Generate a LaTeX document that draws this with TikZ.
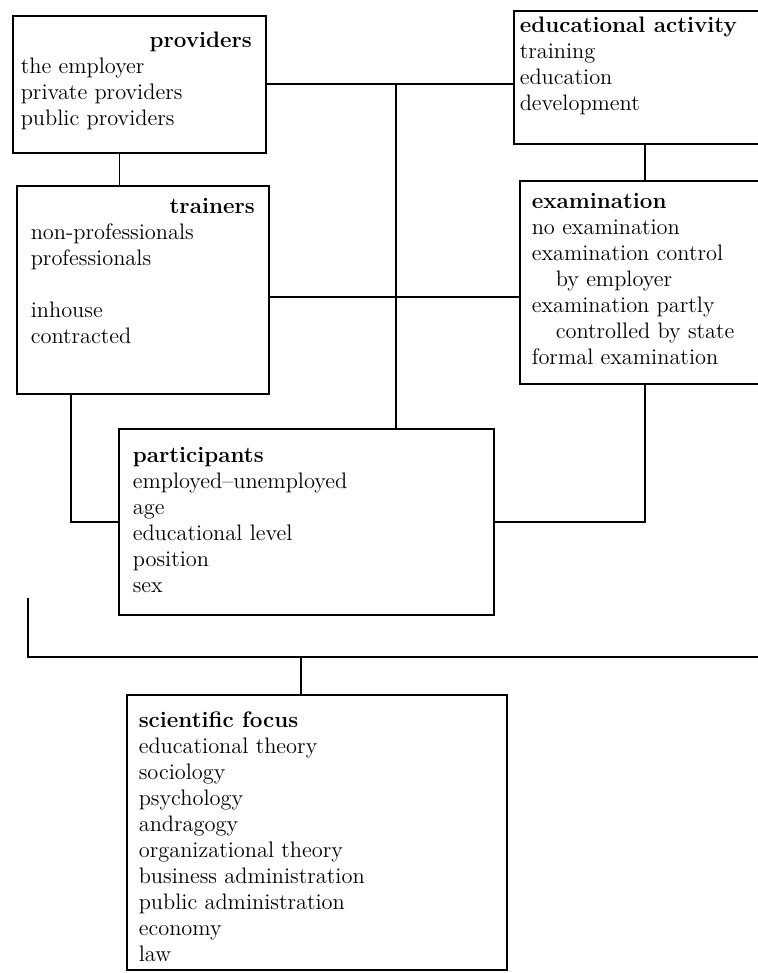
\documentclass[tikz,border=0pt]{standalone}
\usepackage{amsmath}
\usepackage{tikz}
\usetikzlibrary{positioning}

\newcommand{\cardbody}[5]{\parbox[c][#2][t]{#1}{\raggedright\leftskip=#3\relax\rule{0pt}{#4}#5}}

\begin{document}
\begin{tikzpicture}[x=0.5pt, y=-0.5pt,
    card/.style={draw, line width=0.8pt, inner sep=0pt, anchor=north west,
      font=\fontsize{11.2}{13}\selectfont},
    link/.style={line width=0.8pt}]
  \useasboundingbox (0,0) rectangle (758,973);
  \clip (0,0) rectangle (758,973);

% boxes
  \node[card] (prov) at (12,15) {\cardbody{126.5pt}{68.5pt}{4pt}{16pt}{%
      \hfill\textbf{providers}\kern7pt\\ the employer\\ private providers\\ public providers}};
  \node[card] (train) at (16,185) {\cardbody{126pt}{104pt}{7pt}{14pt}{%
      \hfill\textbf{trainers}\kern7pt\\ non-professionals\\ professionals\\ \mbox{}\\ inhouse\\ contracted}};
  \node[card] (edu) at (513,10) {\cardbody{131pt}{66.5pt}{3pt}{11pt}{%
      \textbf{educational activity}\\ training\\ education\\ development}};
  \node[card] (exam) at (519,180) {\cardbody{128pt}{101.5pt}{6pt}{14pt}{%
      \textbf{examination}\\ no examination\\ examination control\\
      \hspace*{12pt}by employer\\ examination partly\\ \hspace*{12pt}controlled by state\\
      formal examination}};
  \node[card] (part) at (118,428) {\cardbody{187.5pt}{93pt}{7pt}{17pt}{%
      \textbf{participants}\\ employed--unemployed\\ age\\ educational level\\ position\\ sex}};
  \node[card] (sci) at (126,694) {\cardbody{190pt}{137.5pt}{6pt}{16.5pt}{%
      \textbf{scientific focus}\\ educational theory\\ sociology\\ psychology\\ andragogy\\
      organizational theory\\ business administration\\ public administration\\ economy\\ law}};

% lines
  \coordinate (hub) at (396,0);
  \coordinate (busL) at (28,598);
  \coordinate (busR) at (758,657);

  \draw[link] (prov.east) -- (prov.east -| edu.west);
  \draw[link] (hub |- prov.east) -- (hub |- part.north);
  \draw[link] ([yshift=-3.5pt]train.east) -- ([yshift=-3.5pt]train.east -| exam.west);
  \draw[link] ([xshift=-10pt]prov.south) -- ([xshift=-10pt]prov.south |- train.north);
  \draw[link] (edu.south) -- (edu.south |- exam.north);
  \draw[link] ([xshift=27.5pt]train.south west) |- (part.west);
  \draw[link] ([xshift=63pt]exam.south west) |- (part.east);
  \draw[link] (busL) |- (busR);
  \draw[link] ([xshift=-8pt]sci.north) -- ([xshift=-8pt]sci.north |- busR);
\end{tikzpicture}
\end{document}
